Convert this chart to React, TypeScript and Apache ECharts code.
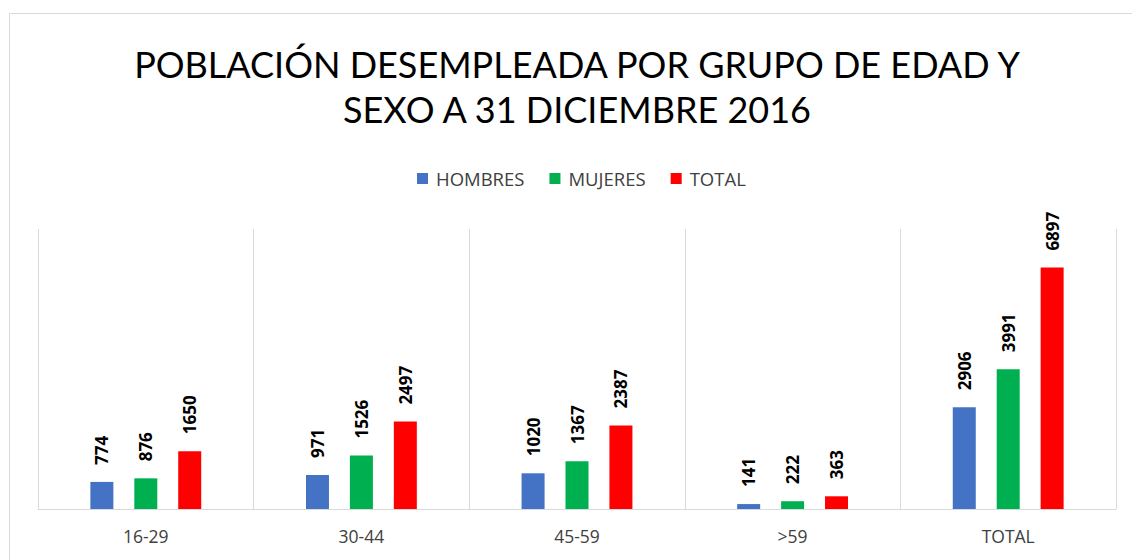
import React, { useEffect, useRef } from "react";
import * as echarts from "echarts";

const categories = ["16-29", "30-44", "45-59", ">59", "TOTAL"];
const hombres = [774, 971, 1020, 141, 2906];
const mujeres = [876, 1526, 1367, 222, 3991];
const total = [1650, 2497, 2387, 363, 6897];
const seriesNames = ["HOMBRES", "MUJERES", "TOTAL"];
const colors = ["#4472C4", "#00B050", "#FF0000"];
const titleLines = ["POBLACIÓN DESEMPLEADA POR GRUPO DE EDAD Y", "SEXO A 31 DICIEMBRE 2016"];

const FONT = "'Open Sans', 'Noto Sans', sans-serif";
const TITLE_FONT = "Lato, 'Open Sans', sans-serif";

export default function App() {
  const ref = useRef<HTMLDivElement>(null);
  useEffect(() => {
    if (!ref.current) return;
    const chart = echarts.init(ref.current, undefined, { renderer: "svg" });
    const data = [hombres, mujeres, total];
    chart.setOption({
      animation: false,
      backgroundColor: "#ffffff",
      textStyle: { fontFamily: FONT },
      title: titleLines.map((t, i) => ({
        text: t,
        left: 577,
        textAlign: "center",
        top: 45 + i * 45,
        padding: 0,
        textStyle: {
          fontFamily: TITLE_FONT,
          fontSize: 36,
          fontWeight: "normal",
          color: "#000000",
          lineHeight: 38,
        },
      })),
      legend: {
        data: seriesNames,
        top: 164,
        left: 412,
        itemWidth: 11,
        itemHeight: 11,
        itemGap: 25,
        icon: "rect",
        textStyle: { fontFamily: FONT, fontSize: 18.5, color: "#404040", padding: [0, 0, 0, 3] },
      },
      graphic: [
        {
          type: "rect",
          shape: { x: 9.5, y: 13.5, width: 1200, height: 600 },
          style: { fill: "none", stroke: "#d9d9d9", lineWidth: 1 },
          silent: true,
        },
      ],
      grid: { left: 38, right: 16, top: 229, bottom: 51, containLabel: false },
      xAxis: {
        type: "category",
        data: categories,
        axisTick: { show: false },
        axisLine: { lineStyle: { color: "#d9d9d9", width: 1 } },
        splitLine: { show: true, lineStyle: { color: "#d9d9d9", width: 1 } },
        axisLabel: { fontFamily: FONT, fontSize: 17.5, color: "#404040", margin: 18 },
      },
      yAxis: {
        type: "value",
        min: 0,
        max: 8000,
        show: false,
        splitLine: { show: false },
      },
      series: seriesNames.map((name, i) => ({
        name,
        type: "bar",
        data: data[i],
        barWidth: 23,
        barGap: "91%",
        itemStyle: { color: colors[i] },
        label: {
          show: true,
          position: "top",
          rotate: 90,
          align: "left",
          verticalAlign: "middle",
          distance: 17,
          fontFamily: FONT,
          fontWeight: "bold",
          fontSize: 17,
          color: "#000000",
        },
      })),
    });
    return () => chart.dispose();
  }, []);
  return (
    <div
      ref={ref}
      style={{ position: "fixed", left: 0, top: 0, width: 1132, height: 560 }}
    />
  );
}
